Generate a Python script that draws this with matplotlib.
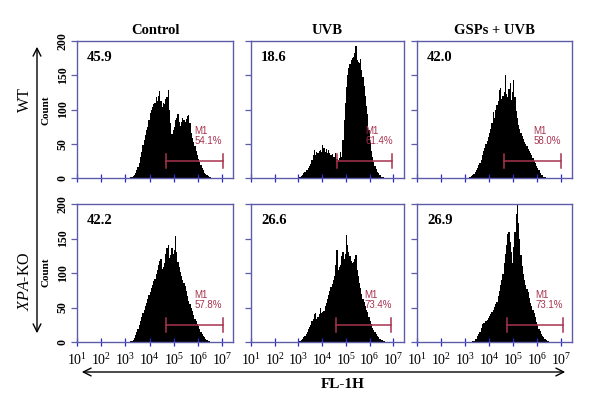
import numpy as np
import matplotlib.pyplot as plt
from matplotlib.patches import FancyArrowPatch

plt.rcParams["font.family"] = ["Liberation Serif", "DejaVu Serif"]
plt.rcParams["mathtext.fontset"] = "custom"
plt.rcParams["mathtext.rm"] = "Liberation Serif"
plt.rcParams["mathtext.it"] = "Liberation Serif:italic"
plt.rcParams["mathtext.bf"] = "Liberation Serif:bold"

# --- data ---
col_titles = ["Control", "UVB", "GSPs + UVB"]
row_labels = ["WT", r"$\mathit{XPA}$-KO"]
corner_values = ["45.9", "18.6", "42.0", "42.2", "26.6", "26.9"]
m1_percent = ["54.1%", "61.4%", "58.0%", "57.8%", "73.4%", "73.1%"]
m1_start = [10**4.66, 10**4.62, 10**4.63, 10**4.66, 10**4.59, 10**4.73]
m1_end = [10**7.02, 10**6.95, 10**6.98, 10**7.02, 10**6.91, 10**7.06]
m1_level = [25, 25, 25, 25, 25, 25]
xtick_values = [1e1, 1e2, 1e3, 1e4, 1e5, 1e6, 1e7]
xtick_labels = [r"$\mathregular{10^{%d}}$" % k for k in range(1, 8)]
ytick_values = [0, 50, 100, 150, 200]

# histogram counts, bins of 0.05 decade starting at hist_start (log10)
hist_start = [3.20, 3.00, 3.15, 3.20, 3.00, 3.30]
bin_step = 0.05
hist_wt_control = [1, 2, 3, 5, 8, 11, 16, 22, 30, 38, 48, 55, 63, 70, 75, 85, 95, 100, 104, 108,
                   110, 118, 112, 120, 127, 112, 104, 110, 108, 115, 118, 128, 100, 80, 64, 70, 75, 84,
                   88, 93, 82, 76, 82, 88, 85, 82, 86, 90, 92, 80, 66, 58, 52, 46, 40, 34, 28, 23,
                   19, 15, 11, 8, 6, 4, 3, 2, 1]
hist_wt_uvb = [1, 2, 3, 5, 7, 9, 11, 12, 15, 18, 21, 27, 34, 41, 33, 38, 36, 40, 41, 38, 48, 44,
               38, 42, 36, 41, 37, 34, 35, 30, 31, 36, 28, 26, 29, 38, 31, 55, 85, 110, 133, 150,
               160, 166, 172, 175, 176, 182, 192, 172, 170, 168, 174, 158, 148, 135, 120, 105, 94,
               70, 52, 40, 31, 23, 17, 13, 9, 7, 5, 4, 2, 1]
hist_wt_gsps = [1, 2, 3, 4, 6, 9, 12, 15, 19, 22, 27, 33, 39, 44, 49, 54, 60, 65, 72, 80, 96, 88,
                100, 106, 112, 128, 131, 115, 120, 126, 150, 122, 118, 130, 138, 114, 125, 143, 118,
                98, 88, 78, 72, 66, 61, 57, 53, 50, 47, 43, 40, 36, 33, 29, 25, 22, 18, 14, 11, 8,
                5, 4, 2, 1]
hist_ko_control = [1, 2, 3, 6, 10, 15, 19, 24, 30, 36, 42, 47, 52, 57, 63, 68, 73, 78, 82, 88, 92,
                   98, 104, 112, 118, 121, 106, 108, 114, 128, 136, 141, 122, 126, 136, 128, 134,
                   153, 130, 116, 108, 101, 96, 90, 86, 81, 74, 66, 60, 55, 50, 45, 39, 34, 30, 26,
                   23, 19, 15, 12, 9, 7, 5, 3, 2, 1]
hist_ko_uvb = [1, 2, 3, 5, 7, 9, 12, 15, 19, 22, 25, 30, 34, 40, 42, 34, 36, 40, 49, 42, 44, 45,
               52, 57, 63, 68, 74, 80, 84, 90, 96, 112, 133, 104, 108, 112, 124, 131, 120, 128, 155,
               140, 131, 125, 118, 114, 116, 120, 126, 104, 96, 86, 78, 70, 63, 58, 52, 47, 43, 36,
               30, 26, 21, 17, 14, 11, 9, 7, 5, 4, 3, 2, 1]
hist_ko_gsps = [1, 2, 4, 5, 8, 11, 14, 20, 26, 28, 27, 30, 32, 35, 37, 40, 44, 47, 51, 55, 58, 66,
                74, 82, 90, 98, 115, 128, 140, 157, 160, 145, 130, 114, 138, 160, 186, 201, 172, 150,
                126, 110, 98, 90, 82, 77, 72, 64, 57, 52, 46, 42, 36, 29, 24, 19, 16, 12, 9, 7, 5,
                3, 2, 1]
all_hists = [hist_wt_control, hist_wt_uvb, hist_wt_gsps,
             hist_ko_control, hist_ko_uvb, hist_ko_gsps]

# --- layout (pixels of the 600x408 picture) ---
W, H = 600, 408
col_px = [(77, 233), (251, 404), (417, 572)]
row_px = [(41, 178), (204, 342)]
frame_color = "#5c5ca8"
tick_color = "#2a2ad0"
m1_color = "#a8334f"

fig = plt.figure(figsize=(W / 100, H / 100), dpi=100)


def fx(px):
    return px / W


def fy(py):
    return 1 - py / H


for i in range(6):
    r, c = divmod(i, 3)
    x0, x1 = col_px[c]
    yt, yb = row_px[r]
    ax = fig.add_axes([fx(x0), fy(yb), (x1 - x0) / W, (yb - yt) / H])

    counts = np.array(all_hists[i], dtype=float)
    edges = 10 ** (hist_start[i] + bin_step * np.arange(len(counts) + 1))
    ax.stairs(counts, edges, fill=True, color="black", lw=0)

    ax.set_xscale("log")
    ax.set_xlim(10**1, 10**7.45)
    ax.set_ylim(0, 200)

    for s in ax.spines.values():
        s.set_color(frame_color)
        s.set_linewidth(1.0)

    ax.set_xticks(xtick_values)
    ax.tick_params(axis="x", which="major", direction="inout", length=6, width=0.9,
                   color=tick_color)
    ax.tick_params(axis="x", which="minor", direction="inout", length=4, width=0.8,
                   color=tick_color)
    if r == 1:
        ax.set_xticklabels(xtick_labels, fontsize=10)
        ax.tick_params(axis="x", which="major", pad=4)
    else:
        ax.set_xticklabels([])
    ax.tick_params(axis="x", which="minor", labelbottom=False)

    ax.set_yticks(ytick_values)
    ax.tick_params(axis="y", direction="out", length=4, width=0.9, color=frame_color)
    if c == 0:
        ax.set_yticklabels([str(v) for v in ytick_values], rotation=90, va="center",
                           fontsize=8.5, fontweight="bold")
        ax.tick_params(axis="y", pad=2)
    else:
        ax.set_yticklabels([])

    # M1 marker
    ax.plot([m1_start[i], m1_end[i]], [m1_level[i], m1_level[i]], color=m1_color, lw=1.1)
    ax.plot([m1_start[i], m1_start[i]], [m1_level[i] - 10, m1_level[i] + 10], color=m1_color, lw=1.1)
    ax.plot([m1_end[i], m1_end[i]], [m1_level[i] - 10, m1_level[i] + 10], color=m1_color, lw=1.1)
    xm = m1_start[i] * 10**1.2
    ax.text(xm, 68, "M1", color=m1_color, fontsize=7, family="Liberation Sans", va="center", zorder=5)
    ax.text(xm, 54, m1_percent[i], color=m1_color, fontsize=7, family="Liberation Sans",
            va="center", zorder=5)

    ax.text(0.065, 0.88, corner_values[i], transform=ax.transAxes, fontsize=10.5,
            fontweight="bold", ha="left", va="center")

# column titles
for c, title in enumerate(col_titles):
    x0, x1 = col_px[c]
    fig.text(fx((x0 + x1) / 2), fy(30), title, ha="center", va="center", fontsize=10.5,
             fontweight="bold")

# row labels and "Count"
fig.text(fx(25), fy(100), row_labels[0], rotation=90, ha="center", va="center", fontsize=11.5)
fig.text(fx(25), fy(281), row_labels[1], rotation=90, ha="center", va="center", fontsize=11.5)
for yc in (110, 272):
    fig.text(fx(46), fy(yc), "Count", rotation=90, ha="center", va="center", fontsize=8,
             fontweight="bold")

# arrows
fig.add_artist(FancyArrowPatch((fx(37), fy(44)), (fx(37), fy(336)), arrowstyle="<->",
                               mutation_scale=14, lw=1.0, color="black",
                               transform=fig.transFigure))
fig.add_artist(FancyArrowPatch((fx(79), fy(372)), (fx(568), fy(372)), arrowstyle="<->",
                               mutation_scale=14, lw=1.0, color="black",
                               transform=fig.transFigure))
fig.text(fx(343), fy(385), "FL-1H", ha="center", va="center", fontsize=11, fontweight="bold")

fig.savefig("out.png", dpi=100)
